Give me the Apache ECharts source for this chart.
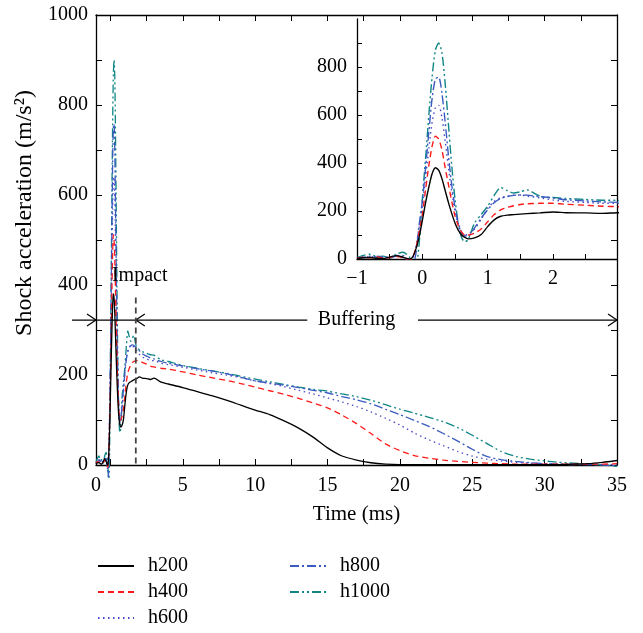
<!DOCTYPE html>
<html>
<head>
<meta charset="utf-8">
<script src="https://cdn.jsdelivr.net/npm/echarts@6/dist/echarts.min.js"></script>
<style>
html,body{margin:0;padding:0;background:#fff;}
#chart{width:643px;height:633px;}
</style>
</head>
<body>
<div id="chart"></div>
<script>
// ---- data (time in ms, acceleration in m/s^2) ----
const time = [-1, -0.9, -0.8, -0.7, -0.6, -0.5, -0.4, -0.3, -0.2, -0.15, -0.1, -0.05,
  0, 0.05, 0.1, 0.15, 0.2, 0.25, 0.3, 0.35, 0.4, 0.45, 0.5, 0.55, 0.6, 0.65, 0.7,
  0.8, 0.9, 1.0, 1.1, 1.2, 1.3, 1.4, 1.5, 1.6,
  1.8, 2.0, 2.2, 2.5, 2.75, 3.0, 3.5, 4,
  5, 6, 7, 8, 9, 10, 11, 12, 13, 14, 15, 16, 17, 18, 19, 20, 21, 22, 23, 24, 25, 26, 27, 28, 29, 30, 31, 32, 33, 34, 35];

const h200 = [2, 5, 6, 3, 2, 8, 14, 8, 0, 8, 40, 90,
  160, 235, 300, 355, 380, 370, 335, 285, 235, 190, 150, 120, 100, 90, 84,
  88, 102, 135, 163, 178, 183, 185, 187, 189,
  192, 196, 193, 192, 190, 193, 184, 180,
  172, 163, 154, 144, 133, 122, 112, 98, 82, 62, 38, 20, 11, 5, 2, 1, 1, 1, 1, 1, 1, 1, 1, 1, 1, 1, 1, 2, 3, 6, 10];

const h400 = [3, 8, 5, 10, 4, 6, 10, 6, -5, 5, 45, 110,
  185, 290, 390, 470, 512, 500, 455, 380, 310, 240, 180, 140, 112, 100, 100,
  108, 125, 155, 185, 205, 215, 222, 227, 230,
  232, 232, 228, 224, 220, 218, 215, 213,
  207, 200, 194, 188, 181, 173, 165, 157, 148, 138, 127, 111, 92, 70, 47, 32, 21, 15, 11, 8, 6, 4, 3, 2, 2, 2, 2, 2, 2, 2, 3];

const h600 = [5, 10, 8, 12, 6, 8, 15, 10, -8, 0, 50, 130,
  220, 340, 460, 570, 630, 640, 590, 490, 380, 280, 200, 145, 110, 100, 102,
  125, 165, 210, 240, 255, 262, 266, 267, 262,
  255, 246, 240, 236, 232, 232, 226, 223,
  217, 211, 205, 200, 194, 187, 181, 174, 166, 158, 149, 140, 130, 118, 104, 89, 71, 56, 43, 30, 20, 13, 9, 6, 4, 3, 2, 2, 2, 1, 1];

const h800 = [4, 6, 12, 8, 10, 5, 12, 15, -10, -28, 20, 140,
  240, 380, 530, 670, 750, 758, 690, 570, 430, 310, 215, 150, 112, 96, 95,
  130, 170, 205, 235, 252, 260, 265, 267, 266,
  260, 254, 247, 242, 238, 236, 230, 226,
  220, 214, 209, 203, 195, 187, 182, 177, 172, 166, 160, 152, 145, 136, 124, 112, 99, 86, 70, 53, 35, 19, 12, 8, 5, 3, 2, 1, 1, 0, -2];

const h1000 = [6, 15, 20, 10, 12, 4, 20, 28, 10, -20, -30, 60,
  250, 420, 600, 760, 870, 900, 860, 730, 560, 390, 250, 150, 90, 72, 80,
  150, 185, 220, 265, 298, 285, 275, 280, 288,
  262, 256, 252, 248, 245, 244, 234, 230,
  221, 215, 209, 204, 197, 191, 185, 179, 173, 168, 164, 158, 152, 144, 134, 124, 115, 106, 96, 83, 66, 48, 30, 19, 13, 9, 6, 4, 2, 0, -3];

const seriesNames = ['h200', 'h400', 'h600', 'h800', 'h1000'];
const seriesValues = [h200, h400, h600, h800, h1000];

// tick labels
const mainXLabels = [-1, 5, 10, 15, 20, 25, 30, 35];   // first label printed as "0" (as in the figure)
const mainXTicks = [0, 2.5, 5, 7.5, 10, 12.5, 15, 17.5, 20, 22.5, 25, 27.5, 30, 32.5, 35];
const insetXLabels = [-1, 0, 1, 2];
const insetXTicks = [-0.5, 0, 0.5, 1, 1.5, 2, 2.5];
const insetYLabels = [0, 200, 400, 600, 800];
const insetYTicks = [100, 200, 300, 400, 500, 600, 700, 800, 900];

// annotations (data units of main axes)
const impactTime = 1.75;
const phaseArrowY = 322;

// ---- styles ----
const FONT = "'Liberation Serif', 'DejaVu Serif', serif";
const colors = ['#000000', '#ff1a1a', '#4848c8', '#3a5cc0', '#0f8585'];
const dashes = ['solid', [6, 4], [1.5, 3.5], [9, 3, 2, 3], [9, 3, 2, 3, 2, 3]];

const chart = echarts.init(document.getElementById('chart'), null, {renderer: 'canvas'});

function pairs(arr) { return time.map((t, i) => [t, arr[i]]); }

const series = [];
seriesNames.forEach((n, k) => {
  series.push({
    name: n, type: 'line', xAxisIndex: 0, yAxisIndex: 0,
    data: pairs(seriesValues[k]), showSymbol: false, symbol: 'none',
    smooth: 0.25, clip: false, z: 5 - k,
    lineStyle: {color: colors[k], width: 1.3, type: dashes[k]},
    itemStyle: {color: colors[k]}
  });
});
seriesNames.forEach((n, k) => {
  series.push({
    name: n, type: 'line', xAxisIndex: 2, yAxisIndex: 2,
    data: pairs(seriesValues[k]), showSymbol: false, symbol: 'none',
    smooth: 0.25, clip: true, z: 5 - k,
    lineStyle: {color: colors[k], width: 1.4, type: dashes[k]},
    itemStyle: {color: colors[k]}
  });
});

const axisLine = {show: true, onZero: false, lineStyle: {color: '#000', width: 1.3}};
const labelStyle = {color: '#000', fontSize: 20, fontFamily: FONT};
const legendCommon = {
  orient: 'vertical', top: 556, itemWidth: 36, itemHeight: 14, itemGap: 6, padding: 0,
  itemStyle: {opacity: 0, borderWidth: 0},
  textStyle: {fontSize: 20, fontFamily: FONT, color: '#000', padding: [0, 0, 0, 9], lineHeight: 20}
};

const option = {
  backgroundColor: '#fff',
  animation: false,
  textStyle: {fontFamily: FONT},
  grid: [
    {left: 96, right: 26, top: 15, bottom: 168},
    {left: 96, right: 26, top: 15, bottom: 168},
    {left: 357, right: 26, top: 19, bottom: 374}
  ],
  legend: [
    Object.assign({data: ['h200', 'h400', 'h600'], left: 97}, legendCommon),
    Object.assign({data: ['h800', 'h1000'], left: 289}, legendCommon)
  ],
  xAxis: [
    {type: 'value', gridIndex: 0, min: -1, max: 35, position: 'bottom',
     name: 'Time (ms)', nameLocation: 'middle', nameGap: 39,
     nameTextStyle: {color: '#000', fontSize: 21, fontFamily: FONT},
     axisLine: axisLine, splitLine: {show: false},
     axisTick: {show: true, inside: true, length: 6, customValues: mainXTicks, lineStyle: {color: '#000'}},
     axisLabel: Object.assign({margin: 11, customValues: mainXLabels,
       formatter: v => (v === -1 ? '0' : String(v))}, labelStyle)},
    {type: 'value', gridIndex: 1, min: -1, max: 35, position: 'top',
     axisLine: axisLine, splitLine: {show: false},
     axisTick: {show: true, inside: true, length: 6, customValues: mainXTicks, lineStyle: {color: '#000'}},
     axisLabel: {show: false}},
    {type: 'value', gridIndex: 2, min: -1, max: 2.98, position: 'bottom',
     axisLine: axisLine, splitLine: {show: false},
     axisTick: {show: true, inside: true, length: 5, customValues: insetXTicks, lineStyle: {color: '#000'}},
     axisLabel: Object.assign({margin: 10, customValues: insetXLabels,
       formatter: v => (v < 0 ? '\u2212' + Math.abs(v) : String(v))}, labelStyle)}
  ],
  yAxis: [
    {type: 'value', gridIndex: 0, min: 0, max: 1000, interval: 100, position: 'left',
     name: 'Shock acceleration (m/s\u00b2)', nameLocation: 'middle', nameGap: 54,
     nameTextStyle: {color: '#000', fontSize: 24, fontFamily: FONT, padding: [0, 0, 0, 54]},
     axisLine: axisLine, splitLine: {show: false},
     axisTick: {show: true, inside: true, length: 6, lineStyle: {color: '#000'}},
     axisLabel: Object.assign({margin: 8, formatter: v => (v % 200 === 0 ? String(v) : '')}, labelStyle)},
    {type: 'value', gridIndex: 1, min: 0, max: 1000, interval: 100, position: 'right',
     axisLine: axisLine, splitLine: {show: false},
     axisTick: {show: true, inside: true, length: 6, lineStyle: {color: '#000'}},
     axisLabel: {show: false}},
    {type: 'value', gridIndex: 2, min: 0, max: 1000, position: 'left',
     axisLine: axisLine, splitLine: {show: false},
     axisTick: {show: true, inside: true, length: 5, customValues: insetYTicks, lineStyle: {color: '#000'}},
     axisLabel: Object.assign({margin: 10, customValues: insetYLabels}, labelStyle)}
  ],
  series: series
};

chart.setOption(option);

// ---- annotations positioned through the main axes ----
function px(x, y) { return chart.convertToPixel({xAxisIndex: 0, yAxisIndex: 0}, [x, y]); }
const xLeftOut = -2.66;
const gapL = 13.6, gapR = 21.25, bufText = 17.0;
const pA = px(xLeftOut, phaseArrowY), pAxis = px(-1, phaseArrowY), pImp = px(impactTime, phaseArrowY);
const pGL = px(gapL, phaseArrowY), pGR = px(gapR, phaseArrowY), pEnd = px(35, phaseArrowY);
const pBuf = px(bufText, phaseArrowY);
const pDashTop = px(impactTime, 372), pDashBot = px(impactTime, 0);
const pImpText = px(0.1, 420);
const Y = pA[1];
const stroke = {stroke: '#000', lineWidth: 1.2, fill: null};
function head(tipX, dir) {
  return {type: 'polyline', shape: {points: [[tipX - 9 * dir, Y - 6], [tipX, Y], [tipX - 9 * dir, Y + 6]]}, style: stroke, z: 20};
}
chart.setOption({
  graphic: [
    {type: 'line', shape: {x1: pA[0], y1: Y, x2: pGL[0], y2: Y}, style: stroke, z: 20},
    {type: 'line', shape: {x1: pGR[0], y1: Y, x2: pEnd[0], y2: Y}, style: stroke, z: 20},
    head(pAxis[0], 1),
    head(pImp[0], -1),
    head(pEnd[0], 1),
    {type: 'line', shape: {x1: pDashTop[0], y1: pDashTop[1], x2: pDashBot[0], y2: pDashBot[1]},
     style: {stroke: '#444', lineWidth: 1.8, lineDash: [6, 4]}, z: 20},
    {type: 'text', x: pBuf[0], y: Y, style: {text: 'Buffering', fontSize: 20, fontFamily: FONT, fill: '#000', align: 'center', verticalAlign: 'middle'}, z: 20},
    {type: 'text', x: pImpText[0], y: pImpText[1], style: {text: 'Impact', fontSize: 20, fontFamily: FONT, fill: '#000', align: 'left', verticalAlign: 'middle'}, z: 20}
  ]
});
</script>
</body>
</html>
